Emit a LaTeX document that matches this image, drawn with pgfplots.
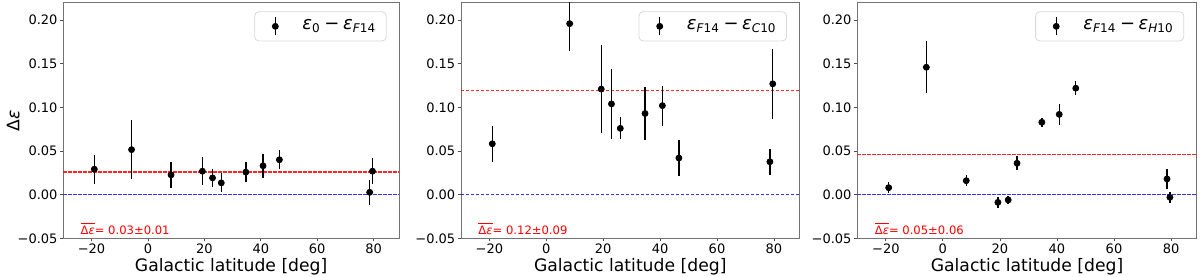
\documentclass[border=0pt]{standalone}
\usepackage{fontspec}
\setmainfont{DejaVu Sans}
\usepackage{pgfplots}
\pgfplotsset{compat=1.18}

\definecolor{spine}{gray}{0.45}

\pgfplotsset{
  panel/.style={
    scale only axis, anchor=south west, height=117.8pt,
    xmin=-30, xmax=89, ymin=-0.05, ymax=0.22,
    xtick={-20,0,20,40,60,80}, xticklabels={−20,0,20,40,60,80},
    ytick={-0.05,0,0.05,0.1,0.15,0.2},
    yticklabels={−0.05,0.00,0.05,0.10,0.15,0.20},
    xtick pos=bottom, ytick pos=left,
    tick align=outside, major tick length=1.5pt,
    tick style={black!70, line width=0.4pt},
    axis line style={spine, line width=0.5pt},
    ticklabel style={font=\fontsize{6.5}{7}\selectfont},
    xticklabel style={inner sep=1pt},
    yticklabel style={inner sep=1.2pt},
    xlabel={Galactic latitude [deg]},
    xlabel style={font=\fontsize{8.6}{10}\selectfont, inner sep=0pt,
      at={(axis description cs:0.5,0)}, anchor=base, yshift=-16.4pt},
    legend style={at={(0.963,0.963)}, anchor=north east, draw=black!15,
      rounded corners=2pt, fill=white, font=\fontsize{9}{10}\selectfont},
    legend image code/.code={
      \path (0.1cm,0) (0.75cm,0);
      \draw[line width=0.7pt] (0.35cm,-4.5pt) -- (0.35cm,4.5pt);
      \fill (0.35cm,0) circle (1.5pt);},
  },
  pts/.style={only marks, mark=*, mark size=1.5pt, black, mark options={black},
    error bars/.cd, y dir=both, y explicit, error mark=none,
    error bar style={line width=0.7pt, black}},
  mean/.style={red, opacity=0.85, line width=0.6pt,
    dash pattern=on 1.6pt off 0.9pt, forget plot},
  zero/.style={blue, opacity=0.8, line width=0.6pt,
    dash pattern=on 1.6pt off 0.9pt, forget plot},
}
\tikzset{note/.style={anchor=base west, text=red, inner sep=0pt,
  font=\fontsize{5.8}{7}\selectfont}}

\pgfplotstableread{
x y e
-19.0 0.0292 0.0167
-5.8 0.0516 0.0335
8.2 0.0227 0.0152
19.3 0.0269 0.0160
22.9 0.0192 0.0102
26.0 0.0135 0.0108
34.7 0.0258 0.0114
40.8 0.0331 0.0135
46.6 0.0400 0.0110
78.6 0.0027 0.0142
79.6 0.0269 0.0148
}\dataA

\pgfplotstableread{
x y e
-19.0 0.0583 0.0208
8.2 0.196 0.031
19.3 0.121 0.050
22.9 0.104 0.040
26.0 0.076 0.0125
34.7 0.093 0.030
40.8 0.102 0.023
46.6 0.042 0.021
78.6 0.0377 0.0147
79.6 0.127 0.040
}\dataB

\pgfplotstableread{
x y e
-19.0 0.008 0.006
-5.8 0.146 0.030
8.2 0.016 0.006
19.3 -0.0088 0.006
22.9 -0.006 0.005
26.0 0.036 0.008
34.7 0.083 0.005
40.8 0.092 0.0116
46.6 0.122 0.008
78.6 0.018 0.011
79.6 -0.003 0.0065
}\dataC

\newcommand{\dbar}{$\overline{\hbox{Δ\textit{ε}}}$}

\begin{document}
\begin{tikzpicture}

% panel 1
\begin{axis}[panel, at={(31.65pt,19.35pt)}, width=167.85pt,
  ylabel={Δ\textit{ε}},
  ylabel style={font=\fontsize{8.6}{10}\selectfont,
    at={(axis description cs:-0.149,0.5)}, anchor=center}]
\addplot[mean] coordinates {(-30,0.026) (89,0.026)};
\addplot[zero] coordinates {(-30,0) (89,0)};
\addplot[pts] table[x=x, y=y, y error=e] {\dataA};
\addlegendentry{\textit{ε}\textsubscript{0}\kern0.2em−\kern0.2em\textit{ε}\textsubscript{\textit{F}14}}
\node[note] at (axis cs:-24,-0.046) {\dbar= 0.03±0.01};
\end{axis}

% panel 2
\begin{axis}[panel, at={(230.5pt,19.35pt)}, width=169.25pt]
\addplot[mean] coordinates {(-30,0.119) (89,0.119)};
\addplot[zero] coordinates {(-30,0) (89,0)};
\addplot[pts] table[x=x, y=y, y error=e] {\dataB};
\addlegendentry{\textit{ε}\textsubscript{\textit{F}14}\kern0.2em−\kern0.2em\textit{ε}\textsubscript{\textit{C}10}}
\node[note] at (axis cs:-24,-0.046) {\dbar= 0.12±0.09};
\end{axis}

% panel 3
\begin{axis}[panel, at={(428.65pt,19.35pt)}, width=169.7pt]
\addplot[mean] coordinates {(-30,0.046) (89,0.046)};
\addplot[zero] coordinates {(-30,0) (89,0)};
\addplot[pts] table[x=x, y=y, y error=e] {\dataC};
\addlegendentry{\textit{ε}\textsubscript{\textit{F}14}\kern0.2em−\kern0.2em\textit{ε}\textsubscript{\textit{H}10}}
\node[note] at (axis cs:-24,-0.046) {\dbar= 0.05±0.06};
\end{axis}

\pgfresetboundingbox
\useasboundingbox (0,0) rectangle (600pt,138.5pt);
\end{tikzpicture}
\end{document}
